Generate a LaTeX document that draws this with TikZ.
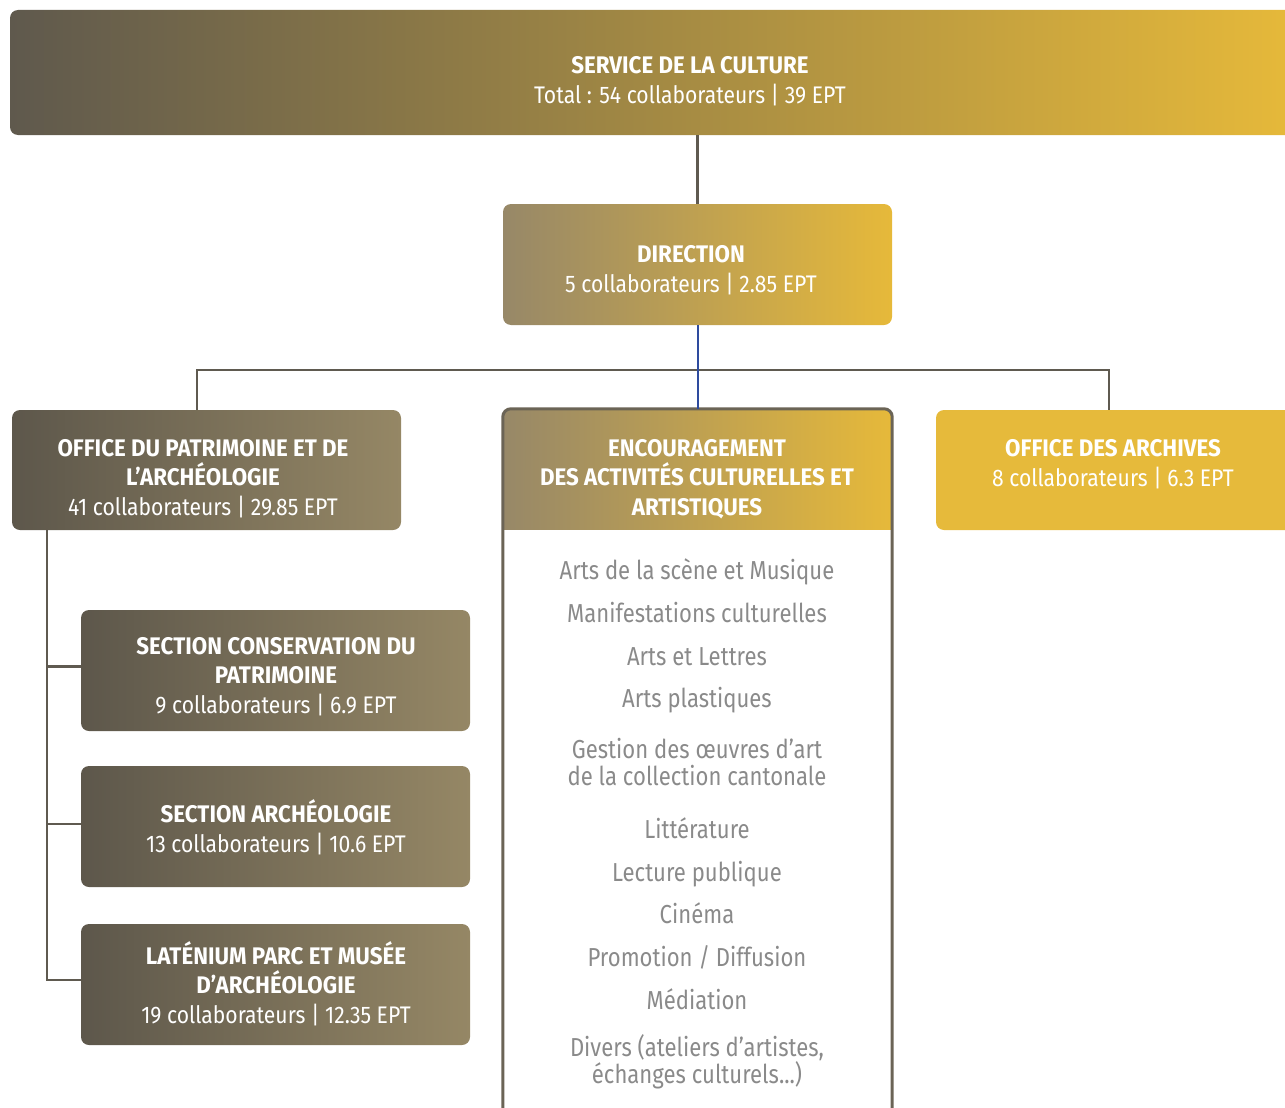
\documentclass[tikz,border=0pt]{standalone}
\usepackage{fontspec}
\setmainfont{Fira Sans}[FakeStretch=0.88, BoldFeatures={FakeStretch=0.93}]
\newfontfamily\itemfont{Fira Sans}[FakeStretch=0.85]
\definecolor{dkL}{HTML}{5D574B}
\definecolor{dkR}{HTML}{958765}
\definecolor{gdL}{HTML}{978868}
\definecolor{gdR}{HTML}{E6B93A}
\definecolor{svcL}{HTML}{5F594D}
\definecolor{arcF}{HTML}{E6BA3B}
\definecolor{linec}{HTML}{5F5A50}
\definecolor{bluec}{HTML}{2E4B9E}
\definecolor{itemc}{HTML}{8A8A8A}
\definecolor{bordc}{HTML}{6B6456}
\begin{document}
\begin{tikzpicture}[x=1pt,y=-1pt,
  conn/.style={draw=linec, line width=2.5pt},
  boxbase/.style={rectangle, rounded corners=8pt, inner sep=0pt, minimum width=389pt, minimum height=121pt},
  darkbox/.style={boxbase, left color=dkL, right color=dkR},
  goldbox/.style={boxbase, left color=gdL, right color=gdR},
  btext/.style={anchor=base, align=center, text=white, inner sep=0pt, font=\fontsize{24}{29.5}\selectfont},
  itemtext/.style={anchor=base, align=center, text=itemc, inner sep=0pt, font=\itemfont\fontsize{26}{27}\selectfont}
]
\useasboundingbox (0,0) rectangle (1285,1108);

% top banner
\node[boxbase, left color=svcL, right color=gdR, minimum width=1285pt, minimum height=125pt] (svc) at (652.5,72.5) {};
\node[btext] (svct) at (690,103) {\bfseries SERVICE DE LA CULTURE\\Total : 54 collaborateurs | 39 EPT};

% direction
\node[goldbox] (dir) at (697.5,264.5) {};
\node[btext] (dirt) at (691,292) {\bfseries DIRECTION\\5 collaborateurs | 2.85 EPT};

% office patrimoine
\node[darkbox, minimum height=120pt] (pat) at (206.5,470) {};
\node[btext] (patt) at (203,515) {\bfseries OFFICE DU PATRIMOINE ET DE\\\bfseries L’ARCHÉOLOGIE\\41 collaborateurs | 29.85 EPT};

% encouragement (header)
\node[goldbox, minimum height=120pt] (enc) at (697.5,469) {};
\shade[left color=gdL, right color=gdR] (enc.west) rectangle (enc.south east);

% archives
\node[boxbase, fill=arcF, minimum width=359pt, minimum height=120pt] (arc) at (1115.5,470) {};
\node[btext] (arct) at (1113,486) {\bfseries OFFICE DES ARCHIVES\\8 collaborateurs | 6.3 EPT};

% sections
\node[darkbox] (sec1) at (275.5,670.5) {};
\node[btext] (sec1t) at (276,713) {\bfseries SECTION CONSERVATION DU\\\bfseries PATRIMOINE\\9 collaborateurs | 6.9 EPT};
\node[darkbox] (sec2) at (275.5,826.5) {};
\node[btext] (sec2t) at (276,852) {\bfseries SECTION ARCHÉOLOGIE\\13 collaborateurs | 10.6 EPT};
\node[darkbox] (sec3) at (275.5,984.5) {};
\node[btext] (sec3t) at (276,1023) {\bfseries LATÉNIUM PARC ET MUSÉE\\\bfseries D’ARCHÉOLOGIE\\19 collaborateurs | 12.35 EPT};

% enc header text
\node[btext] (enct) at (697,515) {\bfseries ENCOURAGEMENT\\\bfseries DES ACTIVITÉS CULTURELLES ET\\\bfseries ARTISTIQUES};

% enc border
\draw[draw=bordc, line width=3pt, rounded corners=8pt]
  ([yshift=-40pt]enc.south west |- 0,1108) -- (enc.north west) -- (enc.north east) -- ([yshift=-40pt]enc.south east |- 0,1108);

% list items
\node[itemtext] (i1) at (697,579) {Arts de la scène et Musique};
\node[itemtext] (i2) at (697,622) {Manifestations culturelles};
\node[itemtext] (i3) at (697,665) {Arts et Lettres};
\node[itemtext] (i4) at (697,707) {Arts plastiques};
\node[itemtext] (i5) at (697,785) {Gestion des œuvres d’art\\de la collection cantonale};
\node[itemtext] (i6) at (697,838) {Littérature};
\node[itemtext] (i7) at (697,881) {Lecture publique};
\node[itemtext] (i8) at (697,923) {Cinéma};
\node[itemtext] (i9) at (697,966) {Promotion / Diffusion};
\node[itemtext] (i10) at (697,1009) {Médiation};
\node[itemtext] (i11) at (697,1083) {Divers (ateliers d’artistes,\\échanges culturels...)};

% connectors
\draw[conn] (dir.north |- svc.south) -- (dir.north);
\coordinate (patup) at ([xshift=-9.5pt]pat.north);
\coordinate (arcup) at ([xshift=-6.5pt]arc.north);
\coordinate (bus) at (698,370);
\draw[conn] (patup) |- (bus) -| (arcup);
\draw[draw=bluec, line width=2pt] (dir.south) -- (enc.north);

\coordinate (sp) at ([xshift=35pt]pat.south west);
\coordinate (b1) at ([yshift=4pt]sec1.west);
\coordinate (b2) at ([yshift=2.5pt]sec2.west);
\coordinate (b3) at ([yshift=4.5pt]sec3.west);
\draw[conn] (sp) |- (b3);
\draw[conn] (b1) -- (b1 -| sp);
\draw[conn] (b2) -- (b2 -| sp);
\end{tikzpicture}
\end{document}
